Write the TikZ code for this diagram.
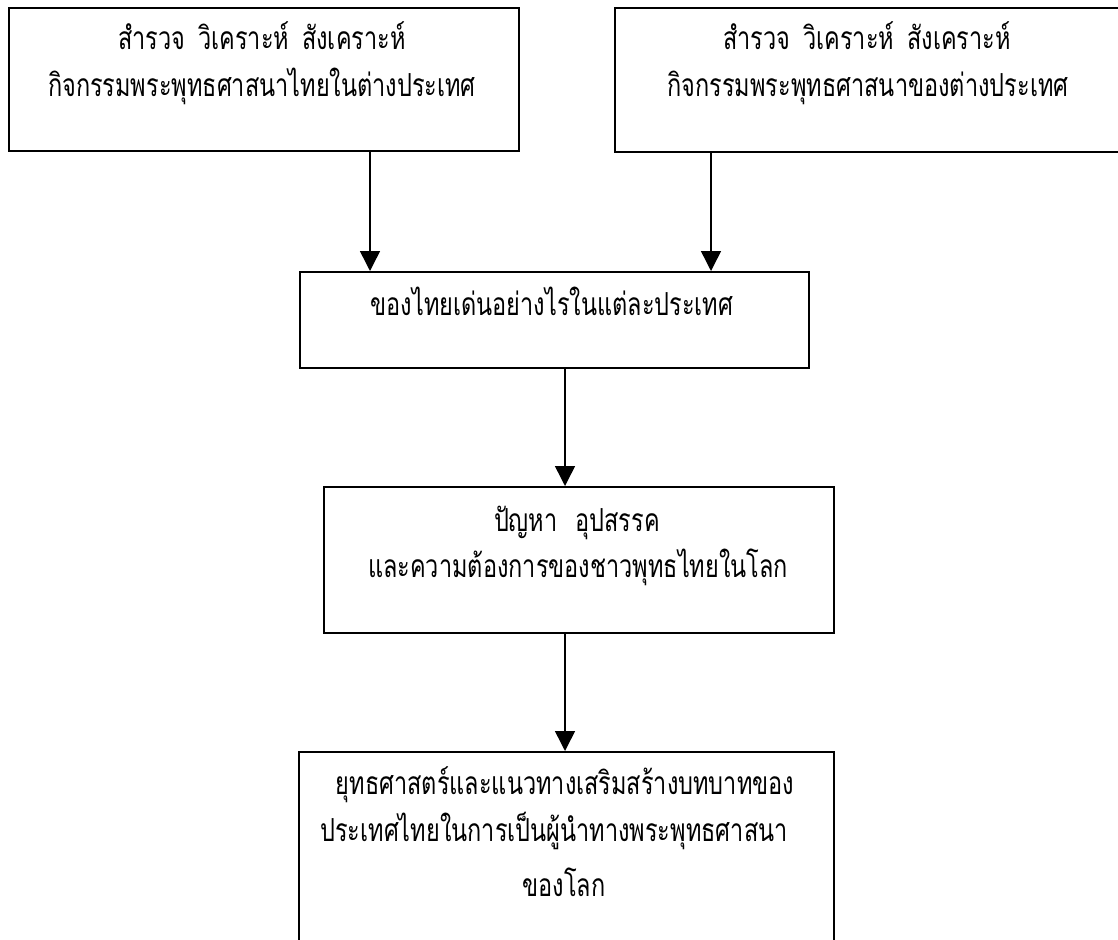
\documentclass[tikz,border=0pt]{standalone}
\usepackage{fontspec}
\usepackage{graphicx}
\newfontfamily\thaifont[Script=Thai]{Loma}
\newcommand\thtxt[1]{\scalebox{1}[1.35]{#1}}
\usetikzlibrary{arrows.meta}
\tikzset{
  box/.style={draw, line width=1.6pt, rectangle, anchor=north west, inner sep=0pt},
  txt/.style={anchor=base, inner sep=0pt, font=\thaifont\fontsize{23.5}{28}\selectfont},
  arr/.style={line width=1.5pt, -{Triangle[length=20pt,width=20pt]}}
}
\begin{document}
\begin{tikzpicture}[x=1pt,y=-1pt]
\useasboundingbox (0,0) rectangle (1118,939);
\fill[white] (0,0) rectangle (1118,939);
\clip (0,0) rectangle (1118,939);
% boxes
\node[box, minimum width=510pt, minimum height=143pt] (b1) at (8,7) {};
\node[box, minimum width=512pt, minimum height=144pt] (b2) at (614,7) {};
\node[box, minimum width=509pt, minimum height=96pt] (b3) at (299,271) {};
\node[box, minimum width=510pt, minimum height=146pt] (b4) at (323,486) {};
\node[box, minimum width=535pt, minimum height=220pt] (b5) at (298,751) {};
% texts
\node[txt] (t1a) at (262,50) {\thtxt{สำรวจ\hspace{5pt} วิเคราะห์\hspace{5pt} สังเคราะห์}};
\node[txt] (t1b) at (262,97) {\thtxt{กิจกรรมพระพุทธศาสนาไทยในต่างประเทศ}};
\node[txt] (t2a) at (867,50) {\thtxt{สำรวจ\hspace{5pt} วิเคราะห์\hspace{5pt} สังเคราะห์}};
\node[txt] (t2b) at (868,97) {\thtxt{กิจกรรมพระพุทธศาสนาของต่างประเทศ}};
\node[txt] (t3) at (552,315) {\thtxt{ของไทยเด่นอย่างไรในแต่ละประเทศ}};
\node[txt] (t4a) at (577,531) {\thtxt{ปัญหา\hspace{10pt} อุปสรรค}};
\node[txt] (t4b) at (578,577) {\thtxt{และความต้องการของชาวพุทธไทยในโลก}};
\node[txt] (t5a) at (565,794) {\thtxt{ยุทธศาสตร์และแนวทางเสริมสร้างบทบาทของ}};
\node[txt] (t5b) at (554,841) {\thtxt{ประเทศไทยในการเป็นผู้นำทางพระพุทธศาสนา}};
\node[txt] (t5c) at (564,896) {\thtxt{ของโลก}};
% connectors
\draw[arr] (370,0 |- b1.south) -- (370,0 |- b3.north);
\draw[arr] (711,0 |- b2.south) -- (711,0 |- b3.north);
\draw[arr] (565,0 |- b3.south) -- (565,0 |- b4.north);
\draw[arr] (565,0 |- b4.south) -- (565,0 |- b5.north);
\end{tikzpicture}
\end{document}
